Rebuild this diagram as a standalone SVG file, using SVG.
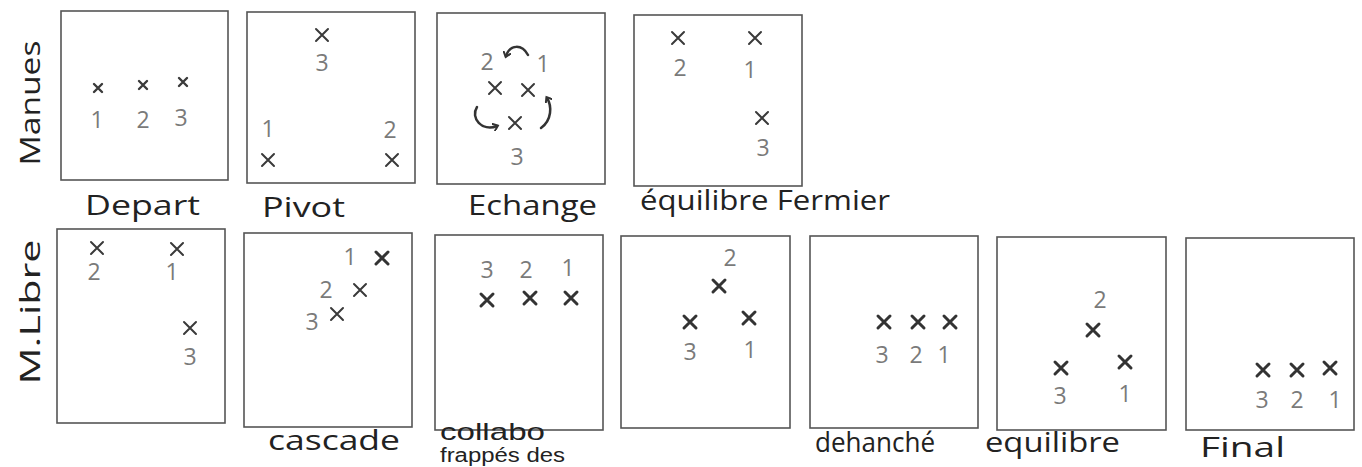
<svg xmlns="http://www.w3.org/2000/svg" width="1362" height="467" viewBox="0 0 1362 467">
<style>
.box{fill:none;stroke:#555;stroke-width:1.6}
.x{stroke:#3a3a3a;stroke-width:2;stroke-linecap:round;fill:none}
.xb{stroke:#333;stroke-width:3;stroke-linecap:round;fill:none}
.n{font-family:"Open Sans","Liberation Sans",sans-serif;font-size:23px;fill:#7a7a7a;text-anchor:middle}
.lbl{font-family:"Open Sans","Liberation Sans",sans-serif;font-size:27px;fill:#222}
.lbs{font-family:"Liberation Sans",sans-serif;fill:#222}
.arr{stroke:#333;stroke-width:2.5;fill:none;stroke-linecap:round}
</style>
<defs>
<g id="xm"><path class="x" d="M-6,-6 L6,6 M6,-6 L-6,6"/></g>
<g id="xs"><path class="x" d="M-4,-4 L4,4 M4,-4 L-4,4" style="stroke-width:2.4"/></g>
<g id="xB"><path class="xb" d="M-6,-6 L6,6 M6,-6 L-6,6"/></g>
<marker id="ah" markerWidth="8" markerHeight="8" refX="4" refY="4" orient="auto" markerUnits="userSpaceOnUse"><path d="M0,0 L5,4 L0,8" fill="none" stroke="#333" stroke-width="2"/></marker>
</defs>

<text class="lbl" transform="translate(40,103) rotate(-90)" text-anchor="middle" textLength="125" lengthAdjust="spacingAndGlyphs">Manues</text>
<text class="lbl" transform="translate(40,312) rotate(-90)" text-anchor="middle" textLength="145" lengthAdjust="spacingAndGlyphs">M.Libre</text>

<g id="depart">
<rect class="box" x="61" y="11" width="167" height="169"/>
<use href="#xs" x="98" y="88"/><use href="#xs" x="143" y="85"/><use href="#xs" x="183" y="82"/>
<text class="n" x="97" y="128">1</text><text class="n" x="143" y="128">2</text><text class="n" x="181" y="126">3</text>
<text class="lbl" x="85" y="215" textLength="115" lengthAdjust="spacingAndGlyphs">Depart</text>
</g>

<g id="pivot">
<rect class="box" x="247" y="12" width="168" height="171"/>
<use href="#xm" x="322" y="35"/><text class="n" x="322" y="71">3</text>
<text class="n" x="268" y="137">1</text><use href="#xm" x="268" y="160"/>
<text class="n" x="390" y="138">2</text><use href="#xm" x="392" y="160"/>
<text class="lbl" x="262" y="217" textLength="83" lengthAdjust="spacingAndGlyphs">Pivot</text>
</g>

<g id="echange">
<rect class="box" x="437" y="13" width="168" height="171"/>
<text class="n" x="487" y="70">2</text><text class="n" x="543" y="72">1</text>
<use href="#xm" x="495" y="88"/><use href="#xm" x="528" y="90"/><use href="#xm" x="515" y="123"/>
<text class="n" x="517" y="165">3</text>
<text class="lbl" x="468" y="215" textLength="129" lengthAdjust="spacingAndGlyphs">Echange</text>
</g>

<g id="equilibre-fermier">
<rect class="box" x="634" y="15" width="168" height="171"/>
<use href="#xm" x="678" y="38"/><text class="n" x="680" y="76">2</text>
<use href="#xm" x="755" y="38"/><text class="n" x="750" y="78">1</text>
<use href="#xm" x="762" y="118"/><text class="n" x="763" y="156">3</text>
<text class="lbl" x="640" y="210" textLength="250" lengthAdjust="spacingAndGlyphs">équilibre Fermier</text>
</g>

<g id="libre-depart">
<rect class="box" x="57" y="229" width="168" height="194"/>
<use href="#xm" x="97" y="248"/><text class="n" x="94" y="280">2</text>
<use href="#xm" x="177" y="249"/><text class="n" x="172" y="280">1</text>
<use href="#xm" x="190" y="328"/><text class="n" x="190" y="365">3</text>
</g>

<g id="cascade">
<rect class="box" x="244" y="233" width="168" height="194"/>
<text class="n" x="350" y="265">1</text><use href="#xB" x="382" y="258"/>
<text class="n" x="326" y="298">2</text><use href="#xm" x="360" y="290"/>
<text class="n" x="312" y="330">3</text><use href="#xm" x="337" y="314"/>
<text class="lbl" x="268" y="450" textLength="132" lengthAdjust="spacingAndGlyphs">cascade</text>
</g>

<g id="collabo">
<rect class="box" x="435" y="235" width="168" height="195"/>
<text class="n" x="487" y="278">3</text><text class="n" x="526" y="278">2</text><text class="n" x="568" y="276">1</text>
<use href="#xB" x="487" y="300"/><use href="#xB" x="530" y="298"/><use href="#xB" x="571" y="298"/>
<text class="lbs" x="440" y="440" font-size="24" textLength="105" lengthAdjust="spacingAndGlyphs">collabo</text>
<text class="lbs" x="440" y="462" font-size="20" textLength="125" lengthAdjust="spacingAndGlyphs">frappés des</text>
</g>

<g id="triangle">
<rect class="box" x="621" y="236" width="169" height="192"/>
<text class="n" x="730" y="266">2</text><use href="#xB" x="719" y="286"/>
<use href="#xB" x="690" y="322"/><text class="n" x="690" y="360">3</text>
<use href="#xB" x="749" y="318"/><text class="n" x="750" y="358">1</text>
</g>

<g id="dehanche">
<rect class="box" x="810" y="236" width="168" height="192"/>
<use href="#xB" x="884" y="322"/><use href="#xB" x="918" y="322"/><use href="#xB" x="950" y="322"/>
<text class="n" x="882" y="363">3</text><text class="n" x="916" y="363">2</text><text class="n" x="944" y="363">1</text>
<text class="lbl" x="815" y="452" textLength="120" lengthAdjust="spacingAndGlyphs">dehanché</text>
</g>

<g id="equilibre">
<rect class="box" x="997" y="237" width="169" height="193"/>
<text class="n" x="1100" y="308">2</text><use href="#xB" x="1093" y="330"/>
<use href="#xB" x="1061" y="368"/><text class="n" x="1060" y="404">3</text>
<use href="#xB" x="1125" y="362"/><text class="n" x="1125" y="402">1</text>
<text class="lbl" x="985" y="452" textLength="135" lengthAdjust="spacingAndGlyphs">equilibre</text>
</g>

<g id="final">
<rect class="box" x="1186" y="238" width="168" height="192"/>
<use href="#xB" x="1263" y="370"/><use href="#xB" x="1297" y="370"/><use href="#xB" x="1330" y="368"/>
<text class="n" x="1262" y="408">3</text><text class="n" x="1297" y="408">2</text><text class="n" x="1335" y="408">1</text>
<text class="lbl" x="1200" y="457" textLength="85" lengthAdjust="spacingAndGlyphs">Final</text>
</g>

<g id="connectors">
<path class="arr" d="M528,55 C522,44 510,44 506,56" marker-end="url(#ah)"/>
<path class="arr" d="M477,107 C470,118 482,132 497,126" marker-end="url(#ah)"/>
<path class="arr" d="M541,128 C552,120 552,106 547,98" marker-end="url(#ah)"/>
</g>
</svg>
